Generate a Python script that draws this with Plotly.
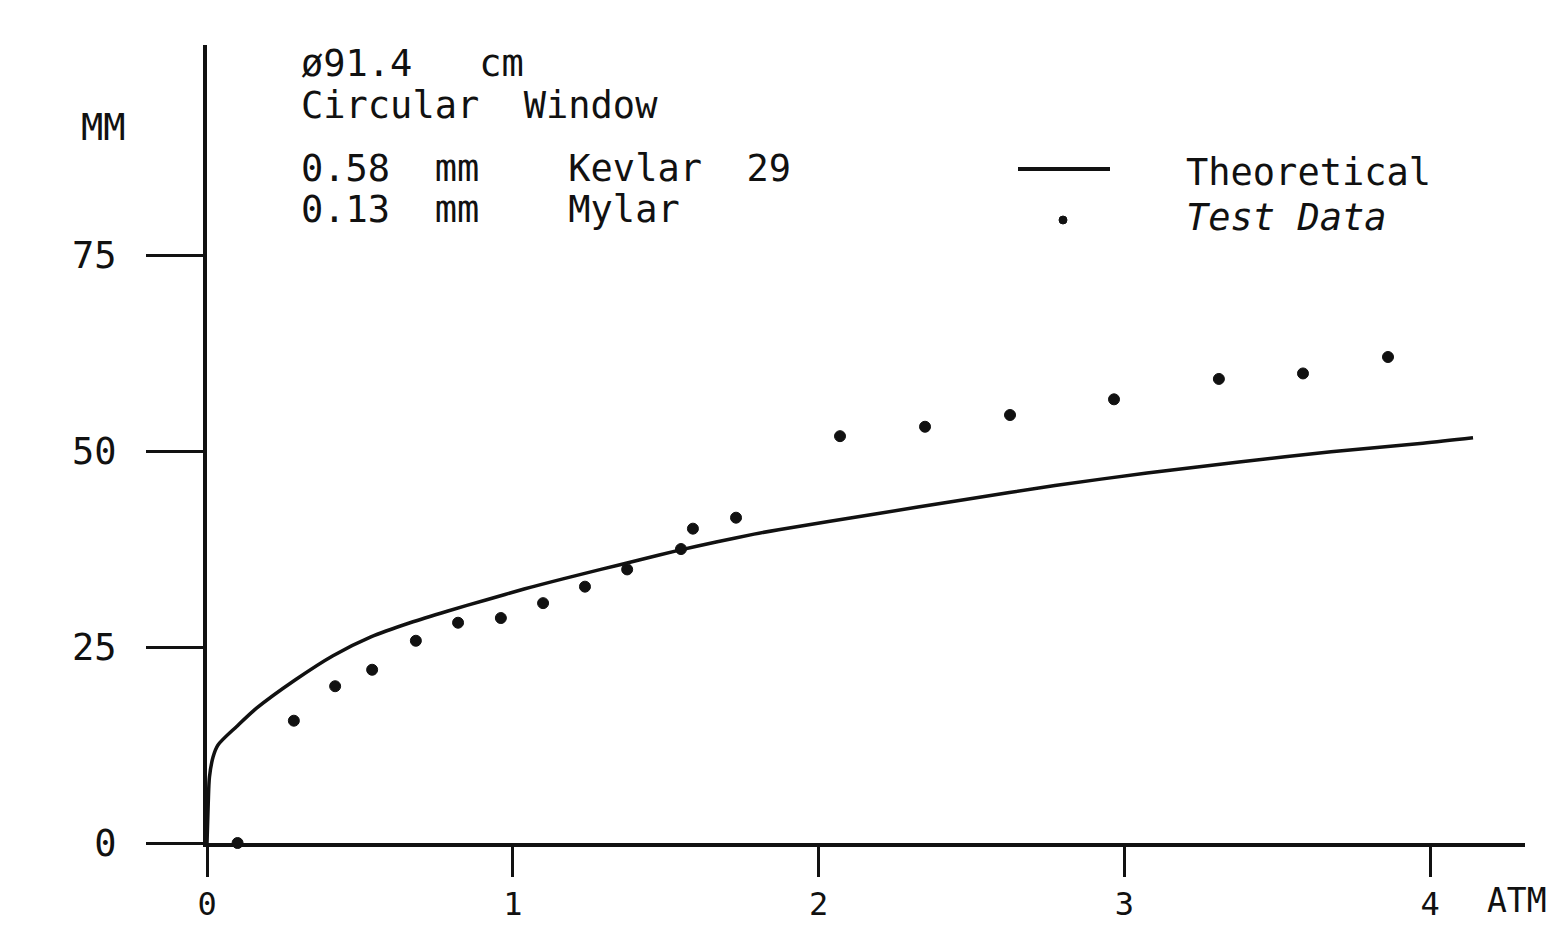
import plotly.graph_objects as go

# Theoretical curve: pressure ATM -> deflection MM
theo_x = [0.0, 0.004, 0.008, 0.02, 0.036, 0.098, 0.162, 0.288, 0.412, 0.536, 0.664, 0.788,
          0.912, 1.037, 1.164, 1.288, 1.413, 1.538, 1.665, 1.789, 1.874, 2.175, 2.475,
          2.773, 3.074, 3.375, 3.676, 3.976, 4.14]
theo_y = [0.0, 5.0, 8.4, 11.0, 12.5, 14.9, 17.2, 20.8, 23.9, 26.3, 28.1, 29.6,
          31.0, 32.4, 33.7, 34.9, 36.1, 37.3, 38.4, 39.4, 40.0, 41.9, 43.8,
          45.6, 47.2, 48.6, 49.9, 51.0, 51.7]

# Test data points
test_x = [0.10, 0.284, 0.419, 0.540, 0.683, 0.821, 0.961, 1.099, 1.236, 1.374, 1.550,
          1.589, 1.730, 2.070, 2.348, 2.626, 2.966, 3.309, 3.584, 3.862]
test_y = [0.0, 15.6, 20.0, 22.1, 25.8, 28.1, 28.7, 30.6, 32.7, 34.9, 37.5,
          40.1, 41.5, 51.9, 53.1, 54.6, 56.6, 59.2, 59.9, 62.0]

x_ticks = [0, 1, 2, 3, 4]
y_ticks = [0, 25, 50, 75]

legend_labels = ["Theoretical", "Test Data"]

FONT = "DejaVu Sans Mono"
FS = 37
INK = "#111111"

W, H = 1561, 927
L, R, T, B = 207, 1525, 45, 843
PW, PH = R - L, B - T


def px(x):
    return (x - L) / PW


def py(y):
    return (B - y) / PH


fig = go.Figure()
fig.add_trace(go.Scatter(x=theo_x, y=theo_y, mode="lines",
                         line=dict(color=INK, width=3.5, shape="spline", smoothing=0.8),
                         name=legend_labels[0], showlegend=False, cliponaxis=False))
fig.add_trace(go.Scatter(x=test_x, y=test_y, mode="markers",
                         marker=dict(symbol="circle", size=11, color=INK, line=dict(color=INK, width=1)),
                         name=legend_labels[1], showlegend=False, cliponaxis=False))

sp = "\u00a0"
ann = []
ys = [63, 105, 168, 210]
texts = [
    "ø91.4" + sp * 3 + "cm",
    "Circular" + sp * 2 + "Window",
    "0.58" + sp * 2 + "mm" + sp * 4 + "Kevlar" + sp * 2 + "29",
    "0.13" + sp * 2 + "mm" + sp * 4 + "Mylar",
]
for t, yy in zip(texts, ys):
    ann.append(dict(text=t, x=px(299), y=py(yy), xref="paper", yref="paper", xanchor="left", yanchor="middle",
                    showarrow=False, font=dict(family=FONT, size=FS, color=INK)))
ann.append(dict(text=legend_labels[0], x=px(1184), y=py(172), xref="paper", yref="paper", xanchor="left",
                yanchor="middle", showarrow=False, font=dict(family=FONT, size=FS, color=INK)))
ann.append(dict(text="<i>" + legend_labels[1].replace(" ", sp) + "</i>", x=px(1184), y=py(217), xref="paper",
                yref="paper", xanchor="left", yanchor="middle", showarrow=False,
                font=dict(family=FONT, size=FS, color=INK)))
ann.append(dict(text="MM", x=px(103), y=py(127), xref="paper", yref="paper", xanchor="center", yanchor="middle",
                showarrow=False, font=dict(family=FONT, size=FS, color=INK)))
ann.append(dict(text="ATM", x=px(1485), y=py(900), xref="paper", yref="paper", xanchor="left", yanchor="middle",
                showarrow=False, font=dict(family=FONT, size=33, color=INK)))

shapes = [
    dict(type="line", xref="paper", yref="paper", x0=px(1018), x1=px(1110), y0=py(169), y1=py(169),
         line=dict(color=INK, width=4)),
    dict(type="circle", xref="paper", yref="paper", x0=px(1059), x1=px(1067), y0=py(224), y1=py(216),
         fillcolor=INK, line=dict(color=INK, width=1)),
]

fig.update_layout(
    width=W, height=H,
    margin=dict(l=L, r=W - R, t=T, b=H - B, pad=0, autoexpand=False),
    paper_bgcolor="white", plot_bgcolor="white",
    annotations=ann, shapes=shapes, showlegend=False,
    xaxis=dict(range=[0, 4.31], tickvals=x_ticks, ticktext=[str(v) for v in x_ticks], showgrid=False,
               zeroline=False, showline=True, linecolor=INK, linewidth=4, ticks="outside", ticklen=30,
               tickwidth=3, tickcolor=INK, ticklabelstandoff=0, automargin=False,
               tickfont=dict(family=FONT, size=32, color=INK)),
    yaxis=dict(range=[0, 101.8], tickvals=y_ticks, ticktext=[str(v) for v in y_ticks], showgrid=False,
               zeroline=False, showline=True, linecolor=INK, linewidth=4, ticks="outside", ticklen=57,
               tickwidth=3, tickcolor=INK, ticklabelstandoff=22, automargin=False,
               tickfont=dict(family=FONT, size=FS, color=INK)),
)

fig.write_html("out.html")
